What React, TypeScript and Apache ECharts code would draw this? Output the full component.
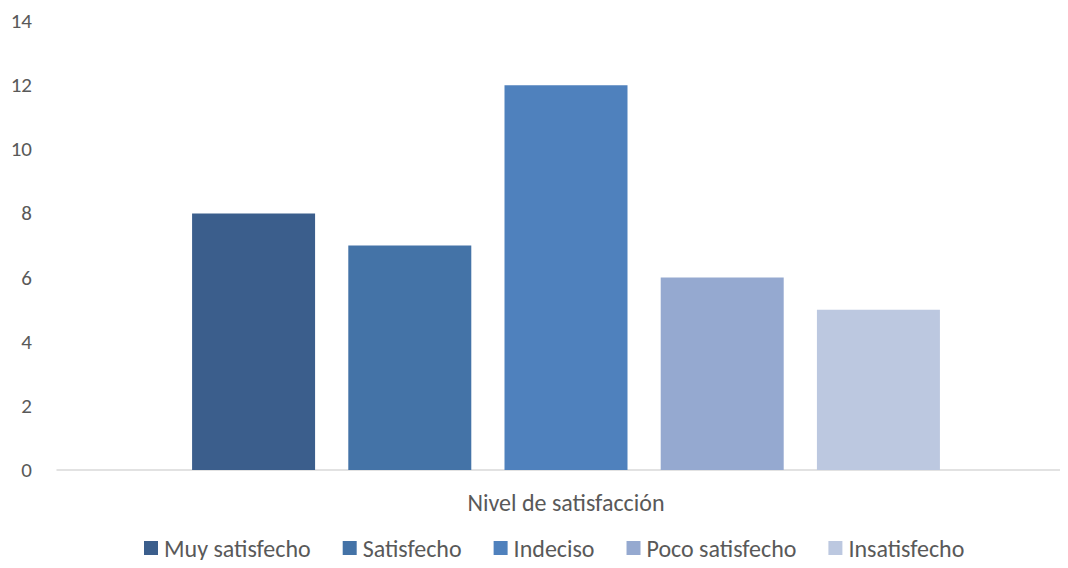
import React, { useEffect, useRef } from "react";
import * as echarts from "echarts";

const categories = ["Nivel de satisfacción"];
const seriesNames = ["Muy satisfecho", "Satisfecho", "Indeciso", "Poco satisfecho", "Insatisfecho"];
const seriesValues = [8, 7, 12, 6, 5];
const seriesColors = ["#3B5E8C", "#4473A7", "#4F81BD", "#95A9D0", "#BCC8E0"];
const yTicks = [0, 2, 4, 6, 8, 10, 12, 14];

const FONT = "Carlito, Calibri, Lato, sans-serif";

export default function App() {
  const ref = useRef<HTMLDivElement>(null);
  useEffect(() => {
    if (!ref.current) return;
    const chart = echarts.init(ref.current, null, { renderer: "svg" });
    chart.setOption({
      animation: false,
      textStyle: { fontFamily: FONT },
      grid: { left: 57, width: 1018, top: 21, bottom: 98, outerBoundsMode: "none" },
      legend: {
        top: 536,
        left: 144,
        padding: 0,
        itemWidth: 14,
        itemHeight: 14,
        itemGap: 32,
        icon: "rect",
        textStyle: { color: "#595959", fontSize: 24, lineHeight: 24, fontFamily: FONT, padding: [0, 0, 0, 1] },
        data: seriesNames,
      },
      xAxis: {
        type: "category",
        data: categories,
        axisLine: { lineStyle: { color: "#D9D9D9", width: 1.5 } },
        axisTick: { show: false },
        axisLabel: { color: "#595959", fontSize: 24, margin: 20, fontFamily: FONT },
      },
      yAxis: {
        type: "value",
        min: yTicks[0],
        max: yTicks[yTicks.length - 1],
        interval: 2,
        splitLine: { show: false },
        axisLine: { show: false },
        axisTick: { show: false },
        axisLabel: { color: "#595959", fontSize: 21, margin: 25, fontFamily: FONT },
      },
      series: seriesNames.map((name, i) => ({
        name,
        type: "bar",
        data: [seriesValues[i]],
        barWidth: 123,
        barGap: "27%",
        itemStyle: { color: seriesColors[i] },
      })),
    });
    return () => chart.dispose();
  }, []);
  return <div ref={ref} style={{ width: 1068, height: 568, margin: -8 }} />;
}
